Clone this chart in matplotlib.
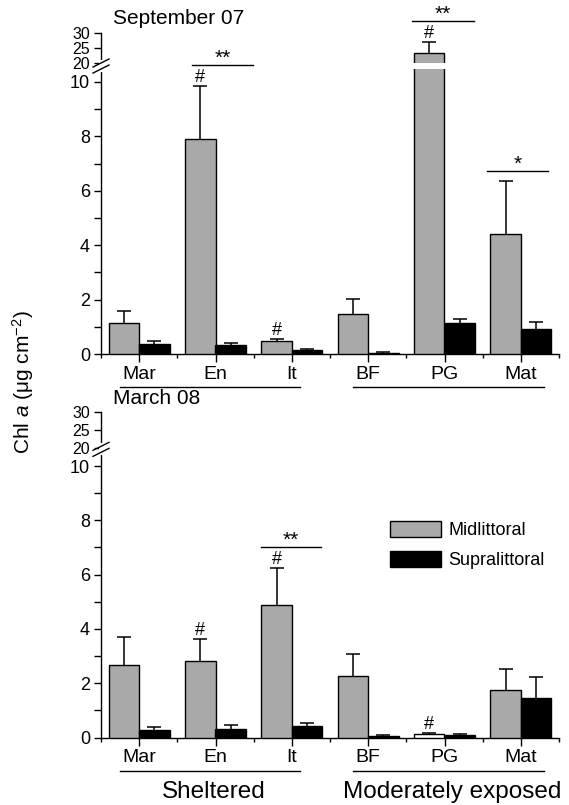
import numpy as np
import matplotlib
matplotlib.use("Agg")
import matplotlib.pyplot as plt
from matplotlib.patches import Patch, Rectangle
from matplotlib.lines import Line2D
from matplotlib.transforms import offset_copy

plt.rcParams['font.family'] = ['Liberation Sans', 'DejaVu Sans']
plt.rcParams['mathtext.fontset'] = 'custom'
plt.rcParams['mathtext.rm'] = 'Liberation Sans'
plt.rcParams['mathtext.it'] = 'Liberation Sans:italic'

sites = ['Mar', 'En', 'It', 'BF', 'PG', 'Mat']
groups = ['Sheltered', 'Moderately exposed']

# September 07
sep_mid = [1.14, 7.91, 0.46, 1.46, 23.5, 4.42]
sep_mid_sd = [0.43, 1.96, 0.09, 0.55, 3.7, 1.94]
sep_sup = [0.38, 0.32, 0.16, 0.05, 1.14, 0.92]
sep_sup_sd = [0.09, 0.10, 0.04, 0.01, 0.16, 0.26]
sep_hash = [False, True, True, False, True, False]
sep_sig = [(1, '**', -0.31, 0.49), (4, '**', -0.42, 0.38), (5, '*', -0.44, 0.36)]

# March 08
mar_mid = [2.68, 2.82, 4.88, 2.26, 0.12, 1.74]
mar_mid_sd = [1.02, 0.79, 1.36, 0.81, 0.04, 0.79]
mar_sup = [0.26, 0.33, 0.43, 0.07, 0.08, 1.46]
mar_sup_sd = [0.12, 0.12, 0.12, 0.03, 0.04, 0.77]
mar_hash = [False, True, True, False, True, False]
mar_sig = [(2, '**', -0.41, 0.38)]

GRAY = '#a9a9a9'


def make_scale(a, b):
    # piecewise linear axis: 0-10 normal, 10-20 squeezed, 20-30 compressed
    def fwd(y):
        y = np.asarray(y, dtype=float)
        return np.where(y <= 10, y,
                        np.where(y <= 20, 10 + (y - 10) * a / 10,
                                 10 + a + (y - 20) * b))

    def inv(f):
        f = np.asarray(f, dtype=float)
        return np.where(f <= 10, f,
                        np.where(f <= 10 + a, 10 + (f - 10) * 10 / a,
                                 20 + (f - 10 - a) / b))
    return fwd, inv


fig = plt.figure(figsize=(5.69, 8.05), dpi=100)
W, H = 569, 805


def upper_err(ax, xs, vals, sds):
    tops = np.array(vals) + np.array(sds)
    ax.vlines(xs, vals, tops, color='black', lw=1.1, zorder=2)
    ax.plot(xs, tops, ls='none', marker='_', markersize=10, mew=1.1,
            color='black', zorder=2, clip_on=False)


def panel(rect, mid, mid_sd, sup, sup_sd, hashes, sigs, mid_colors,
          scale, y_break):
    ax = fig.add_axes(rect)
    ax.set_yscale('function', functions=scale)
    x = np.arange(len(sites))
    w = 0.4
    ax.bar(x - w / 2, mid, w, color=mid_colors, edgecolor='black', linewidth=1.0, zorder=3)
    ax.bar(x + w / 2, sup, w, color='black', edgecolor='black', linewidth=1.0, zorder=3)
    upper_err(ax, x - w / 2, mid, mid_sd)
    upper_err(ax, x + w / 2, sup, sup_sd)

    ax.set_xlim(-0.5, len(sites) - 0.5)
    ax.set_ylim(0, 30)
    ax.set_yticks([0, 2, 4, 6, 8, 10, 20, 25, 30])
    ax.set_yticklabels(['0', '2', '4', '6', '8', '10', '20', '25', '30'])
    ax.set_yticks([1, 3, 5, 7, 9], minor=True)
    ax.set_xticks(x)
    ax.set_xticklabels(sites)
    ax.set_xticks(np.arange(-0.5, len(sites)), minor=True)
    ax.tick_params(axis='y', which='major', length=5, width=1.0, labelsize=13, pad=3)
    for lab in ax.get_yticklabels()[6:]:
        lab.set_fontsize(11.5)
    ax.tick_params(axis='y', which='minor', length=5, width=1.0)
    ax.tick_params(axis='x', which='major', length=5.5, width=1.0, labelsize=14, pad=3)
    ax.tick_params(axis='x', which='minor', length=3, width=1.0)
    for s in ['top', 'right']:
        ax.spines[s].set_visible(False)
    for s in ['left', 'bottom']:
        ax.spines[s].set_linewidth(1.0)

    # significance marks
    tops = np.array(mid) + np.array(mid_sd)
    for i, h in enumerate(hashes):
        if h:
            ax.annotate('#', (x[i] - w / 2, tops[i]), xytext=(0, 4),
                        textcoords='offset pixels', ha='center', va='baseline',
                        fontsize=13, zorder=5)
    for i, lab, l, r in sigs:
        off = 21 if hashes[i] else 10
        tr = offset_copy(ax.transData, fig=fig, x=0, y=off, units='dots')
        ax.plot([x[i] + l, x[i] + r], [tops[i], tops[i]], color='black', lw=1.0,
                transform=tr, clip_on=False)
        ax.annotate(lab, ((x[i] + l + x[i] + r) / 2, tops[i]), xytext=(0, off + 1),
                    textcoords='offset pixels', ha='center', va='baseline',
                    fontsize=15)

    # axis break and bar break
    to_fig = fig.transFigure.inverted()
    by = ax.transData.transform((-0.5, y_break))[1]
    ax0 = ax.transAxes.transform((0, 0))[0]
    pts = to_fig.transform([(ax0, by - 4), (ax0, by + 4)])
    fig.add_artist(Line2D([pts[0][0], pts[1][0]], [pts[0][1], pts[1][1]],
                          color='white', lw=3, zorder=10))
    for dy in (-3, 3):
        p = to_fig.transform([(ax0 - 8, by + dy - 4), (ax0 + 8, by + dy + 4)])
        fig.add_artist(Line2D(p[:, 0], p[:, 1], color='black', lw=1.0, zorder=11))
    big = [i for i, v in enumerate(mid) if v > 10]
    inv_data = ax.transData.inverted()
    g0 = inv_data.transform((0, by - 3))[1]
    g1 = inv_data.transform((0, by + 3))[1]
    for i in big:
        ax.add_patch(Rectangle((x[i] - w / 2 - w * 0.55, g0), w * 1.1, g1 - g0,
                               facecolor='white', edgecolor='none', zorder=4))
    return ax


top_rect = [101 / W, 1 - 354 / H, 458 / W, 320.7 / H]
bot_rect = [101 / W, 1 - 737.5 / H, 458 / W, 325.5 / H]

ax1 = panel(top_rect, sep_mid, sep_mid_sd, sep_sup, sep_sup_sd,
            sep_hash, sep_sig, [GRAY] * 6, make_scale(0.69, 0.11), 18.5)
mar_colors = [GRAY, GRAY, GRAY, GRAY, 'white', GRAY]
ax2 = panel(bot_rect, mar_mid, mar_mid_sd, mar_sup, mar_sup_sd,
            mar_hash, mar_sig, mar_colors, make_scale(0.66, 0.133), 19.3)

fig.text(113 / W, 1 - 18 / H, 'September 07', fontsize=15, va='center', ha='left')
fig.text(113 / W, 1 - 398 / H, 'March 08', fontsize=15, va='center', ha='left')

# site group underlines and labels
for ax in (ax1, ax2):
    tr = offset_copy(ax.get_xaxis_transform(), fig=fig, x=0, y=-33, units='dots')
    ax.plot([-0.25, 2.11], [0, 0], color='black', lw=1.0, transform=tr, clip_on=False)
    ax.plot([2.80, 5.30], [0, 0], color='black', lw=1.0, transform=tr, clip_on=False)

tr = offset_copy(ax2.get_xaxis_transform(), fig=fig, x=0, y=-54, units='dots')
ax2.text(0.98, 0, groups[0], transform=tr, ha='center', va='center', fontsize=17.5)
ax2.text(4.1, 0, groups[1], transform=tr, ha='center', va='center', fontsize=17.5)

fig.text(23 / W, 1 - 382 / H, r'Chl $\it{a}$ (μg cm$^{-2}$)', rotation=90,
         ha='center', va='center', fontsize=15)

handles = [Patch(facecolor=GRAY, edgecolor='black', linewidth=1.0, label='Midlittoral'),
           Patch(facecolor='black', edgecolor='black', linewidth=1.0, label='Supralittoral')]
fig.legend(handles=handles, loc='upper left', bbox_to_anchor=(390 / W, 1 - 521 / H),
           frameon=False, fontsize=13, handlelength=2.85, handleheight=1.0,
           handletextpad=0.4, labelspacing=0.65, borderpad=0, borderaxespad=0)

fig.savefig('out.png', dpi=100)
